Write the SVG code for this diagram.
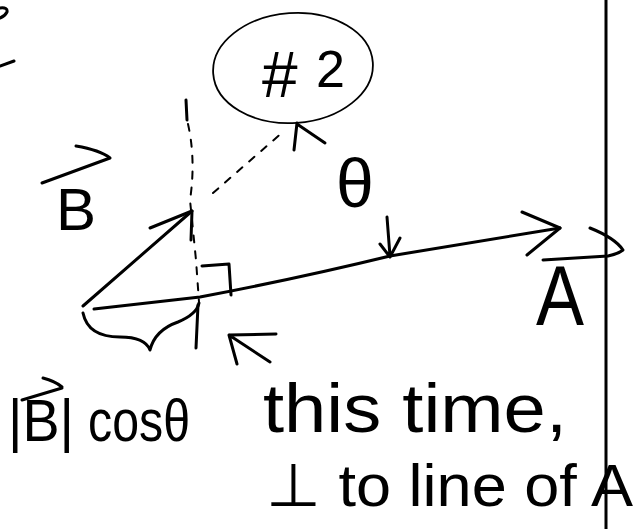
<svg xmlns="http://www.w3.org/2000/svg" width="637" height="529" viewBox="0 0 637 529">
<style>
.s{fill:none;stroke:#000;stroke-width:3;stroke-linecap:round;stroke-linejoin:round}
.t{fill:none;stroke:#000;stroke-width:1.8;stroke-linecap:round}
.d{fill:none;stroke:#000;stroke-width:2;stroke-dasharray:7 9;stroke-linecap:round}
.h{font-family:"Liberation Sans","DejaVu Sans",sans-serif;fill:#000}
</style>
<rect width="637" height="529" fill="#fff"/>
<g id="fragments">
<path class="s" d="M0,8 Q8,7 7,12 Q5,16 0,18"/>
<path class="s" d="M0,66 L14,61"/>
</g>
<g id="node-2">
<ellipse class="t" cx="293" cy="68" rx="80" ry="55" transform="rotate(-4 293 68)"/>
<text class="h" x="262" y="97" font-size="64">#<tspan x="316" y="87" font-size="52">2</tspan></text>
</g>
<g id="frame">
<path class="s" d="M606,0 L606,529" stroke-width="2.5"/>
</g>
<g id="connectors">
<path class="s" d="M186,100 L187,120"/>
<path class="d" d="M188,124 Q196,160 190,200 L196,260 L199,302"/>
<path class="s" d="M198,305 L196,348"/>
<path class="d" d="M213,193 L284,131"/>
<path class="s" d="M294,150 L297,123 M297,124 L325,143" stroke-width="4"/>
<path class="s" d="M94,309 L200,297 Q300,278 390,256 L560,228"/>
<path class="s" d="M522,212 L560,228 L527,255"/>
<path class="s" d="M83,306 L192,211"/>
<path class="s" d="M150,228 L192,211 L191,240"/>
<path class="s" d="M387,217 L390,256 M380,244 L390,257 L400,238"/>
<path class="s" d="M202,266 L229,264 L231,295"/>
<path class="s" d="M83,313 Q88,337 120,337 Q145,337 150,350 Q155,330 178,322 Q197,314 199,303"/>
<path class="s" d="M276,334 L229,335 L237,364 M229,335 L270,362"/>
</g>
<g id="label-theta">
<text class="h" x="336" y="207" font-size="68">θ</text>
</g>
<g id="label-B">
<path class="s" d="M42,183 L110,158 M76,146 Q100,150 110,158"/>
<text class="h" x="56" y="230" font-size="60">B</text>
</g>
<g id="label-A">
<path class="s" d="M543,260 L608,256 M590,228 Q615,238 623,250 Q618,254 608,256"/>
<text class="h" x="536" y="325" font-size="86" textLength="48" lengthAdjust="spacingAndGlyphs">A</text>
</g>
<g id="label-proj">
<path class="s" d="M22,400 L62,388 M43,378 Q55,381 62,387"/>
<text class="h" x="8" y="441" font-size="60" textLength="66" lengthAdjust="spacingAndGlyphs">|B|</text>
<text class="h" x="88" y="441" font-size="60" textLength="102" lengthAdjust="spacingAndGlyphs">cosθ</text>
</g>
<g id="note">
<text class="h" x="263" y="432" font-size="68" textLength="304" lengthAdjust="spacingAndGlyphs">this time,</text>
<text class="h" x="266" y="506" font-size="60" textLength="367" lengthAdjust="spacingAndGlyphs">⊥ to line of A</text>
</g>
</svg>
